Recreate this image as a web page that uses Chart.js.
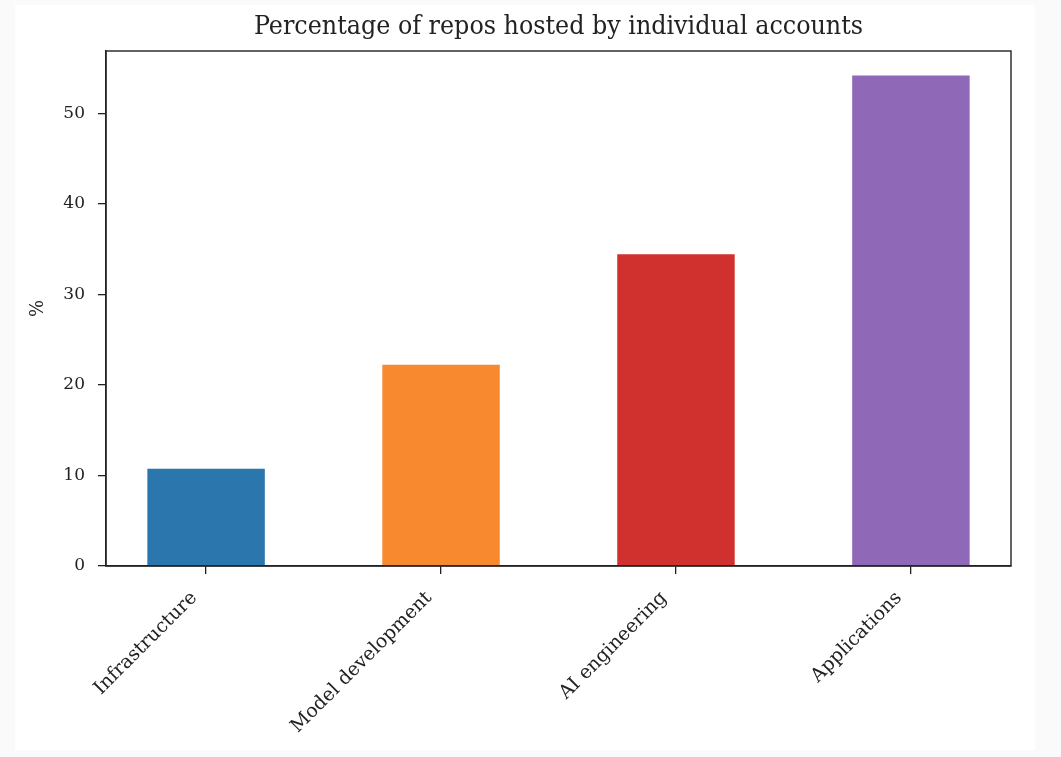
<!DOCTYPE html>
<html>
<head>
<meta charset="utf-8">
<script src="https://cdn.jsdelivr.net/npm/chart.js@4.4.1/dist/chart.umd.min.js"></script>
<style>
  html, body { margin: 0; padding: 0; background: #fafafa; width: 1061px; height: 757px; overflow: hidden; }
  #wrap { position: absolute; left: 15px; top: 5px; width: 1020px; height: 745px; background: #ffffff; }
  canvas { display: block; }
</style>
</head>
<body>
<div id="wrap"><canvas id="c" width="1020" height="745"></canvas></div>
<script>
const categories = ["Infrastructure", "Model development", "AI engineering", "Applications"];
const values = [10.75, 22.24, 34.44, 54.18];
const barColors = ["#2b76ad", "#f8892f", "#d0312f", "#9068b8"];
const yTicks = [0, 10, 20, 30, 40, 50];
const titleText = "Percentage of repos hosted by individual accounts";
const yLabel = "%";

const INK = "#222222";
const serif = "'DejaVu Serif', serif";
const serifCond = "'DejaVu Serif Condensed', 'DejaVu Serif', serif";

const framePlugin = {
  id: 'frame',
  afterDatasetsDraw(chart) {
    const {ctx, chartArea: a} = chart;
    ctx.save();
    ctx.strokeStyle = INK;
    ctx.lineWidth = 1.4;
    ctx.strokeRect(a.left, a.top, a.right - a.left, a.bottom - a.top);
    ctx.restore();
  }
};

new Chart(document.getElementById('c'), {
  type: 'bar',
  data: {
    datasets: [{
      data: values.map((v, i) => ({x: i, y: v})),
      backgroundColor: barColors,
      borderWidth: 0,
      categoryPercentage: 1.0,
      barPercentage: 0.5,
      xAxisID: 'x',
      yAxisID: 'y'
    }]
  },
  plugins: [framePlugin],
  options: {
    responsive: false,
    animation: false,
    layout: { padding: { left: 0, right: 24, top: 0, bottom: 0 } },
    plugins: {
      legend: { display: false },
      tooltip: { enabled: false },
      title: { display: false }
    },
    scales: {
      top: {
        type: 'linear',
        position: 'top',
        display: true,
        afterFit(scale) { scale.height = 46; },
        ticks: { display: false },
        grid: { display: false, drawTicks: false },
        border: { display: false },
        title: {
          display: true,
          text: titleText,
          color: INK,
          font: { family: serifCond, size: 26.5, weight: 'normal', lineHeight: 1.2 },
          padding: { top: 6, bottom: 0 }
        }
      },
      x: {
        type: 'linear',
        position: 'bottom',
        min: -0.426,
        max: 3.426,
        offset: false,
        afterBuildTicks(scale) {
          scale.ticks = categories.map((c, i) => ({ value: i }));
        },
        afterFit(scale) { scale.height = 184; },
        ticks: {
          autoSkip: false,
          minRotation: 45,
          maxRotation: 45,
          padding: 13,
          labelOffset: -12,
          color: INK,
          font: { family: serif, size: 19 },
          callback: (v) => categories[v]
        },
        grid: {
          display: true,
          offset: false,
          drawOnChartArea: false,
          drawTicks: true,
          tickLength: 8,
          color: INK,
          lineWidth: 1.3
        },
        border: { display: true, color: INK, width: 1.4 }
      },
      y: {
        type: 'linear',
        min: 0,
        max: 56.9,
        afterBuildTicks(scale) {
          scale.ticks = yTicks.map(v => ({ value: v }));
        },
        afterFit(scale) { scale.width = 91; },
        ticks: {
          padding: 13,
          color: INK,
          font: { family: serif, size: 17 }
        },
        grid: {
          display: true,
          offset: false,
          drawOnChartArea: false,
          drawTicks: true,
          tickLength: 8,
          color: INK,
          lineWidth: 1.3
        },
        border: { display: true, color: INK, width: 1.4 },
        title: {
          display: true,
          text: yLabel,
          color: INK,
          font: { family: serif, size: 18 },
          padding: { top: 13, bottom: 0 }
        }
      }
    }
  }
});
</script>
</body>
</html>
